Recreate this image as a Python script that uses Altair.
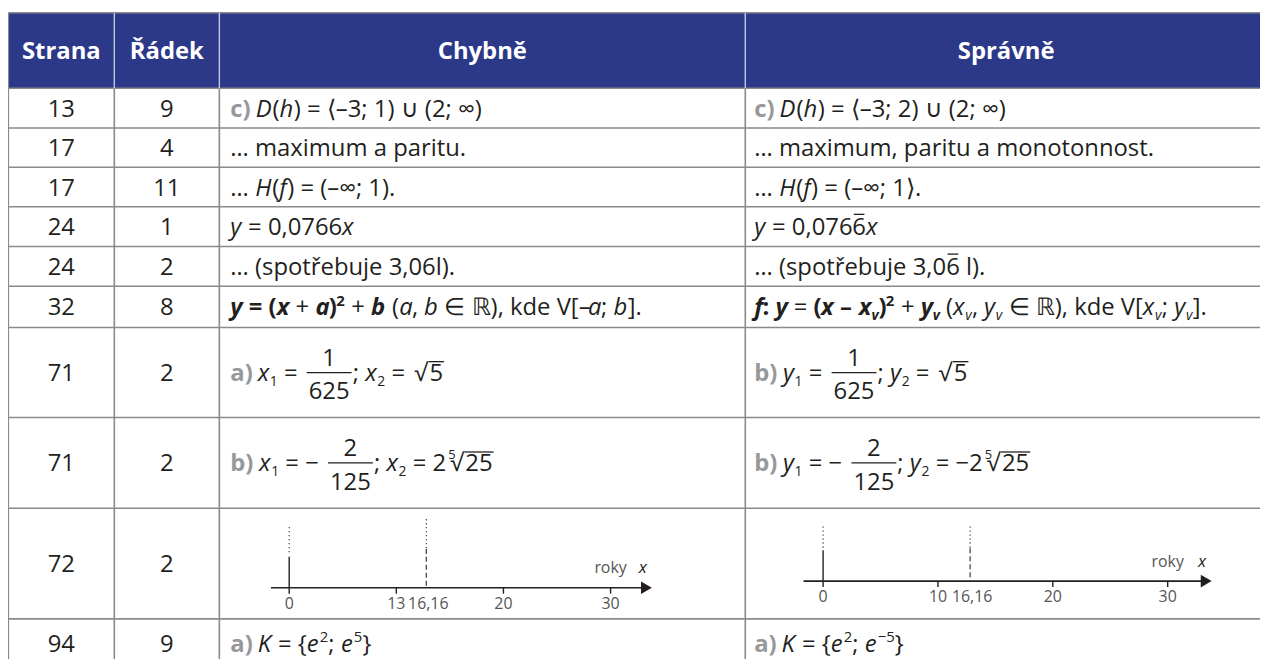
import altair as alt
import pandas as pd

# ---------------- content ----------------
HEADERS = ["Strana", "Řádek", "Chybně", "Správně"]
PAGES = ["13", "17", "17", "24", "24", "32", "71", "71", "72", "94"]
LINES = ["9", "4", "11", "1", "2", "8", "2", "2", "2", "9"]

WRONG = [
    [("c)", "lab"), (" ", "r"), ("D", "i"), ("(", "r"), ("h", "i"), (") = ⟨–3; 1) ∪ (2; ∞)", "r")],
    [("… maximum a paritu.", "r")],
    [("… ", "r"), ("H", "i"), ("(", "r"), ("f", "i"), (") = (–∞; 1).", "r")],
    [("y", "i"), (" = 0,0766", "r"), ("x", "i")],
    [("… (spotřebuje 3,06l).", "r")],
    [("y", "bi"), (" = (", "b"), ("x", "bi"), (" + ", "r"), ("a", "bi"), (")", "b"), ("2", "supb"),
     (" + ", "r"), ("b", "bi"), (" (", "r"), ("a", "i"), (", ", "r"), ("b", "i"),
     (" ∈ ℝ), kde V[–", "r"), ("a", "i"), ("; ", "r"), ("b", "i"), ("].", "r")],
    [("a)", "lab"), (" ", "r"), ("x", "i"), ("1", "sub"), (" = ", "r"), ("FRAC", "1", "625"),
     ("; ", "r"), ("x", "i"), ("2", "sub"), (" = ", "r"), ("ROOT", "", "5")],
    [("b)", "lab"), (" ", "r"), ("x", "i"), ("1", "sub"), (" = − ", "r"), ("FRAC", "2", "125"),
     ("; ", "r"), ("x", "i"), ("2", "sub"), (" = 2", "r"), ("ROOT", "5", "25")],
    None,
    [("a)", "lab"), (" ", "r"), ("K", "i"), (" = {", "r"), ("e", "i"), ("2", "sup"), ("; ", "r"),
     ("e", "i"), ("5", "sup"), ("}", "r")],
]

RIGHT = [
    [("c)", "lab"), (" ", "r"), ("D", "i"), ("(", "r"), ("h", "i"), (") = ⟨–3; 2) ∪ (2; ∞)", "r")],
    [("… maximum, paritu a monotonnost.", "r")],
    [("… ", "r"), ("H", "i"), ("(", "r"), ("f", "i"), (") = (–∞; 1⟩.", "r")],
    [("y", "i"), (" = 0,076", "r"), ("OVL", "6", "r"), ("x", "i")],
    [("… (spotřebuje 3,0", "r"), ("OVL", "6", "r"), (" l).", "r")],
    [("f", "bi"), (": ", "b"), ("y", "bi"), (" = ", "r"), ("(", "b"), ("x", "bi"), (" – ", "b"),
     ("x", "bi"), ("v", "subbi"), (")", "b"), ("2", "supb"), (" + ", "r"), ("y", "bi"), ("v", "subbi"),
     (" (", "r"), ("x", "i"), ("v", "subi"), (", ", "r"), ("y", "i"), ("v", "subi"),
     (" ∈ ℝ), kde V[", "r"), ("KERN", 2.5), ("x", "i"), ("v", "subi"), ("; ", "r"), ("y", "i"),
     ("v", "subi"), ("].", "r")],
    [("b)", "lab"), (" ", "r"), ("y", "i"), ("1", "sub"), (" = ", "r"), ("FRAC", "1", "625"),
     ("; ", "r"), ("y", "i"), ("2", "sub"), (" = ", "r"), ("ROOT", "", "5")],
    [("b)", "lab"), (" ", "r"), ("y", "i"), ("1", "sub"), (" = − ", "r"), ("FRAC", "2", "125"),
     ("; ", "r"), ("y", "i"), ("2", "sub"), (" = −2", "r"), ("ROOT", "5", "25")],
    None,
    [("a)", "lab"), (" ", "r"), ("K", "i"), (" = {", "r"), ("e", "i"), ("2", "sup"), ("; ", "r"),
     ("e", "i"), ("−5", "sup"), ("}", "r")],
]

# number-line (row "72")
NL_TICKS = [0, 10, 20, 30]
NL_LABELS_WRONG = ["0", "13", "20", "30"]
NL_LABELS_RIGHT = ["0", "10", "20", "30"]
NL_MARK = 12.8
NL_MARK_LABEL = "16,16"
NL_NAME = "roky"
NL_VAR = "x"

# ---------------- layout / style ----------------
H = 651
COLS = [8.3, 115, 220.7, 750, 1275]
ROWS = [10.7, 86.7, 126.7, 166.2, 206, 246, 286, 327.5, 418, 509.3, 620.7, 671]
PAD = 11
FS = 24
FONT = "Open Sans"
TXT = "#231f20"
GRAY = "#96989b"
HEAD_BG = "#2c3888"
GRID = "#8a8a8a"

STY = {
    "r": dict(size=FS, weight="normal", style="normal", color=TXT, dy=0, align="left"),
    "i": dict(size=FS, weight="normal", style="italic", color=TXT, dy=0, align="left"),
    "b": dict(size=FS, weight="bold", style="normal", color=TXT, dy=0, align="left"),
    "bi": dict(size=FS, weight="bold", style="italic", color=TXT, dy=0, align="left"),
    "lab": dict(size=FS, weight="bold", style="normal", color=GRAY, dy=0, align="left"),
    "sub": dict(size=14, weight="normal", style="normal", color=TXT, dy=5, align="left"),
    "subi": dict(size=14, weight="normal", style="italic", color=TXT, dy=5, align="left"),
    "subbi": dict(size=14, weight="bold", style="italic", color=TXT, dy=5, align="left"),
    "sup": dict(size=15, weight="normal", style="normal", color=TXT, dy=-10, align="left"),
    "supb": dict(size=15, weight="bold", style="normal", color=TXT, dy=-10, align="left"),
    "idx": dict(size=13, weight="normal", style="normal", color=TXT, dy=-12, align="left"),
    "hdr": dict(size=FS, weight="bold", style="normal", color="white", dy=0, align="center"),
    "num": dict(size=FS, weight="normal", style="normal", color=TXT, dy=0, align="center"),
    "nl": dict(size=16, weight="normal", style="normal", color="#555555", dy=0, align="center"),
    "nlx": dict(size=17, weight="normal", style="italic", color=TXT, dy=0, align="center"),
}

ADV = {" ": 0.26, "a": 0.556, "b": 0.613, "c": 0.476, "d": 0.613, "e": 0.561, "f": 0.339,
       "g": 0.548, "h": 0.614, "i": 0.253, "j": 0.253, "k": 0.525, "l": 0.253, "m": 0.93,
       "n": 0.614, "o": 0.604, "p": 0.613, "q": 0.613, "r": 0.408, "s": 0.477, "t": 0.353,
       "u": 0.614, "v": 0.501, "w": 0.778, "x": 0.524, "y": 0.502, "z": 0.477, "ř": 0.408,
       "ě": 0.561, "á": 0.556, "D": 0.729, "H": 0.738, "K": 0.614, "V": 0.595, "(": 0.297,
       ")": 0.297, ",": 0.245, ".": 0.266, ";": 0.266, ":": 0.266, "=": 0.572, "+": 0.572,
       "[": 0.309, "]": 0.309, "{": 0.376, "}": 0.376, "–": 0.5, "−": 0.572, "…": 0.784,
       "⟨": 0.39, "⟩": 0.39, "∪": 0.732, "∞": 0.833, "∈": 0.8, "ℝ": 0.8, "√": 0.637}
for d in "0123456789":
    ADV[d] = 0.572


def tw(s, key):
    st = STY[key]
    f = 1.0
    if st["weight"] == "bold":
        f *= 1.04
    if st["style"] == "italic":
        f *= 0.97
    return sum(ADV.get(ch, 0.56) for ch in s) * st["size"] * f


texts = []   # x, y, text, style
rules = []   # x, x2, y, y2, kind


def put(x, base, s, key):
    # SVG drops leading/trailing blanks: shift the start instead of relying on them
    lead = len(s) - len(s.lstrip(" "))
    if STY[key]["align"] == "left" and lead:
        x += tw(" " * lead, key)
    s = s.strip(" ")
    if not s:
        return
    texts.append(dict(x=x, y=base + STY[key]["dy"], text=s, style=key))


def layout(tokens, x, base):
    for tok in tokens:
        if tok[0] == "KERN":
            x += tok[1]
        elif tok[0] == "FRAC":
            num, den = tok[1], tok[2]
            wn, wd = tw(num, "r"), tw(den, "r")
            w = max(wn, wd) + 4
            x += 3
            put(x + (w - wn) / 2, base - 15, num, "r")
            put(x + (w - wd) / 2, base + 18.5, den, "r")
            rules.append(dict(x=x, x2=x + w, y=base - 8.5, y2=base - 8.5, kind="math"))
            x += w + 1
        elif tok[0] == "OVL":
            s, key = tok[1], tok[2]
            w = tw(s, key)
            put(x, base, s, key)
            rules.append(dict(x=x + 1.5, x2=x + w - 1.5, y=base - 21, y2=base - 21, kind="math"))
            x += w
        elif tok[0] == "ROOT":
            idx, rad = tok[1], tok[2]
            x += 3
            if idx:
                put(x - 1, base, idx, "idx")
                x += 1
            put(x, base, "√", "r")
            ws = tw("√", "r")
            wr = tw(rad, "r")
            put(x + ws, base, rad, "r")
            rules.append(dict(x=x + ws - 1, x2=x + ws + wr + 1, y=base - 19.5, y2=base - 19.5, kind="math"))
            x += ws + wr
        else:
            s, key = tok
            put(x, base, s, key)
            x += tw(s, key)


centers = [(ROWS[i] + ROWS[i + 1]) / 2 for i in range(len(ROWS) - 1)]
col_c = [(COLS[i] + COLS[i + 1]) / 2 for i in range(len(COLS) - 1)]
BOFF = 8.6

# header
for j, h in enumerate(HEADERS):
    put(col_c[j], centers[0] + BOFF, h, "hdr")

for r in range(len(PAGES)):
    base = centers[r + 1] + BOFF
    put(col_c[0], base, PAGES[r], "num")
    put(col_c[1], base, LINES[r], "num")
    if WRONG[r] is not None:
        layout(WRONG[r], COLS[2] + PAD, base)
    if RIGHT[r] is not None:
        layout(RIGHT[r], COLS[3] + PAD - 2, base)

# number lines
NL_PANELS = [
    dict(labels=NL_LABELS_WRONG, x0=291.0, unit=10.78, axis=589.3,
         zero_dot=(61, 33), mark_dot=(69, 39), name_dy=15),
    dict(labels=NL_LABELS_RIGHT, x0=828.3, unit=11.56, axis=582.7,
         zero_dot=(55, 33), mark_dot=(55, 33), name_dy=14),
]
arrows = []
for p in NL_PANELS:
    px = lambda v, p=p: p["x0"] + v * p["unit"]
    ay = p["axis"]
    rules.append(dict(x=px(-1.7), x2=px(33.0), y=ay, y2=ay, kind="axis"))
    arrows.append(dict(x=px(33.35), y=ay))
    for t, lab in zip(NL_TICKS, p["labels"]):
        rules.append(dict(x=px(t), x2=px(t), y=ay, y2=ay + 6, kind="tick"))
        put(px(t), ay + 21, lab, "nl")
    # zero line
    rules.append(dict(x=px(0), x2=px(0), y=ay - 31, y2=ay, kind="tick"))
    rules.append(dict(x=px(0), x2=px(0), y=ay - p["zero_dot"][0], y2=ay - p["zero_dot"][1], kind="dot"))
    # marker
    rules.append(dict(x=px(NL_MARK), x2=px(NL_MARK), y=ay - p["mark_dot"][0], y2=ay - p["mark_dot"][1], kind="dot"))
    rules.append(dict(x=px(NL_MARK), x2=px(NL_MARK), y=ay - p["mark_dot"][1], y2=ay - 1, kind="dash"))
    put(px(NL_MARK) + 2, ay + 21, NL_MARK_LABEL, "nl")
    put(px(30), ay - p["name_dy"], NL_NAME, "nl")
    put(px(33), ay - p["name_dy"], NL_VAR, "nlx")

# grid
grid = []
for yv in ROWS[1:-1]:
    grid.append(dict(x=COLS[0], x2=COLS[-1], y=yv, y2=yv, kind="grid"))
grid.append(dict(x=COLS[0], x2=COLS[-1], y=ROWS[0], y2=ROWS[0], kind="grid"))
for xv in COLS[:-1]:
    grid.append(dict(x=xv, x2=xv, y=ROWS[1], y2=ROWS[-1], kind="grid"))
grid.append(dict(x=COLS[0], x2=COLS[0], y=ROWS[0], y2=ROWS[1], kind="grid"))
for xv in COLS[1:-1]:
    grid.append(dict(x=xv, x2=xv, y=ROWS[0], y2=ROWS[1], kind="hsep"))
rules = grid + rules

XS = alt.Scale(domain=[8, 1268], nice=False, zero=False)
YS = alt.Scale(domain=[8, 8 + H], nice=False, zero=False, reverse=True)

layers = []
header_df = pd.DataFrame([dict(x=COLS[0], x2=COLS[-1], y=ROWS[0], y2=ROWS[1])])
layers.append(alt.Chart(header_df).mark_rect(color=HEAD_BG).encode(
    x=alt.X("x:Q", scale=XS, axis=None), x2="x2:Q",
    y=alt.Y("y:Q", scale=YS, axis=None), y2="y2:Q"))

rdf = pd.DataFrame(rules)
RULE_STY = {
    "grid": dict(color=GRID, strokeWidth=1.6),
    "hsep": dict(color="#c5c9de", strokeWidth=1.4),
    "math": dict(color=TXT, strokeWidth=1.3),
    "axis": dict(color=TXT, strokeWidth=1.6),
    "tick": dict(color=TXT, strokeWidth=1.4),
    "dot": dict(color="#444444", strokeWidth=1.2, strokeDash=[1.3, 2.7]),
    "dash": dict(color="#444444", strokeWidth=1.3, strokeDash=[5, 3]),
}
for kind, kw in RULE_STY.items():
    sub = rdf[rdf.kind == kind]
    if len(sub) == 0:
        continue
    layers.append(alt.Chart(sub).mark_rule(**kw).encode(
        x=alt.X("x:Q", scale=XS, axis=None), x2="x2:Q",
        y=alt.Y("y:Q", scale=YS, axis=None), y2="y2:Q"))

adf = pd.DataFrame(arrows)
layers.append(alt.Chart(adf).mark_point(shape="triangle-right", filled=True, size=160,
                                        color=TXT, opacity=1).encode(
    x=alt.X("x:Q", scale=XS, axis=None), y=alt.Y("y:Q", scale=YS, axis=None)))

tdf = pd.DataFrame(texts)
for key, st in STY.items():
    sub = tdf[tdf["style"] == key]
    if len(sub) == 0:
        continue
    layers.append(alt.Chart(sub).mark_text(
        font=FONT, fontSize=st["size"], fontWeight=st["weight"], fontStyle=st["style"],
        color=st["color"], align=st["align"], baseline="alphabetic").encode(
        x=alt.X("x:Q", scale=XS, axis=None), y=alt.Y("y:Q", scale=YS, axis=None),
        text="text:N"))

chart = alt.layer(*layers).properties(
    width=1260, height=H, padding=0,
    autosize=alt.AutoSizeParams(type="none"),
).configure_view(stroke=None)

chart.save("out.html", embed_options={"renderer": "svg", "actions": False})
